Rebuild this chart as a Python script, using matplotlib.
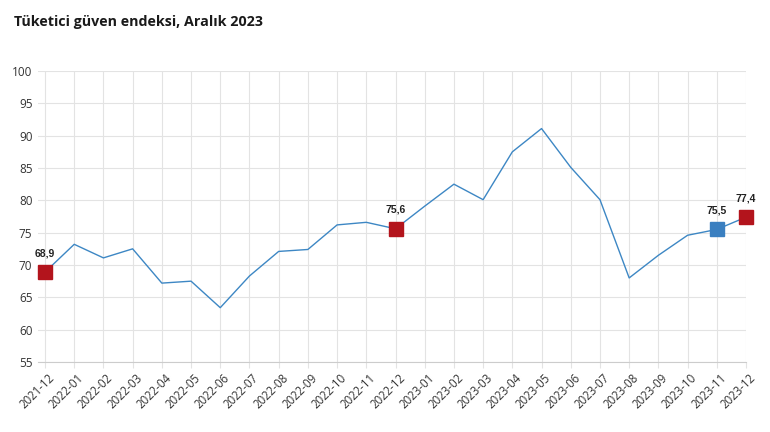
import matplotlib

matplotlib.use("Agg")

import matplotlib.pyplot as plt
from matplotlib.transforms import ScaledTranslation

plt.rcParams["font.family"] = ["Open Sans", "DejaVu Sans"]

# 数据
months = [
    "2021-12", "2022-01", "2022-02", "2022-03", "2022-04", "2022-05", "2022-06",
    "2022-07", "2022-08", "2022-09", "2022-10", "2022-11", "2022-12",
    "2023-01", "2023-02", "2023-03", "2023-04", "2023-05", "2023-06",
    "2023-07", "2023-08", "2023-09", "2023-10", "2023-11", "2023-12",
]
values = [
    68.9, 73.2, 71.1, 72.5, 67.2, 67.5, 63.4,
    68.3, 72.1, 72.4, 76.2, 76.6, 75.6,
    79.1, 82.5, 80.1, 87.5, 91.1, 85.1,
    80.1, 68.0, 71.5, 74.6, 75.5, 77.4,
]
red_points = ["2021-12", "2022-12", "2023-12"]
blue_points = ["2023-11"]
y_ticks = [55, 60, 65, 70, 75, 80, 85, 90, 95, 100]

line_color = "#3d87c4"
red = "#b3141c"
blue = "#3a7fc0"

fig = plt.figure(figsize=(7.7, 4.32), dpi=100)
ax = fig.add_axes([38 / 770, 1 - 362 / 432, 708 / 770, 291 / 432])

x = list(range(len(months)))
ax.plot(x, values, "-", color=line_color, linewidth=1.0, zorder=3)

# 标记点和标签
for name, color in [(m, red) for m in red_points] + [(m, blue) for m in blue_points]:
    i = months.index(name)
    ax.plot(i, values[i], "s", color=color, markersize=9.5, zorder=4, clip_on=False)
    ax.annotate(
        f"{values[i]:.1f}".replace(".", ","),
        (i, values[i]),
        xytext=(0, 10),
        textcoords="offset points",
        ha="center",
        va="bottom",
        fontsize=7.5,
        fontweight="bold",
        family=["Liberation Sans", "DejaVu Sans"],
        color="#222222",
        zorder=5,
        annotation_clip=False,
    )

ax.set_xlim(-0.24, 24.0)
ax.set_ylim(55, 100)
ax.set_yticks(y_ticks)
ax.set_xticks(x)
ax.set_xticklabels(months, rotation=45, ha="right", rotation_mode="anchor")

ax.grid(color="#e3e3e3", linewidth=0.8)
ax.set_axisbelow(True)
for side in ["top", "right", "left"]:
    ax.spines[side].set_visible(False)
ax.spines["bottom"].set_color("#cccccc")
ax.tick_params(axis="y", length=0, pad=4, labelsize=8.5, labelcolor="#333333")
ax.tick_params(axis="x", length=4, color="#e3e3e3", pad=3, labelsize=8.3, labelcolor="#333333")
for lbl in ax.get_xticklabels():
    lbl.set_transform(lbl.get_transform() + ScaledTranslation(2 / 72, 0, fig.dpi_scale_trans))

fig.text(14 / 770, 1 - 22 / 432, "Tüketici güven endeksi, Aralık 2023",
         fontsize=10.3, fontweight="bold", color="#1a1a1a", va="center", ha="left")

plt.savefig("out.png", dpi=100)
